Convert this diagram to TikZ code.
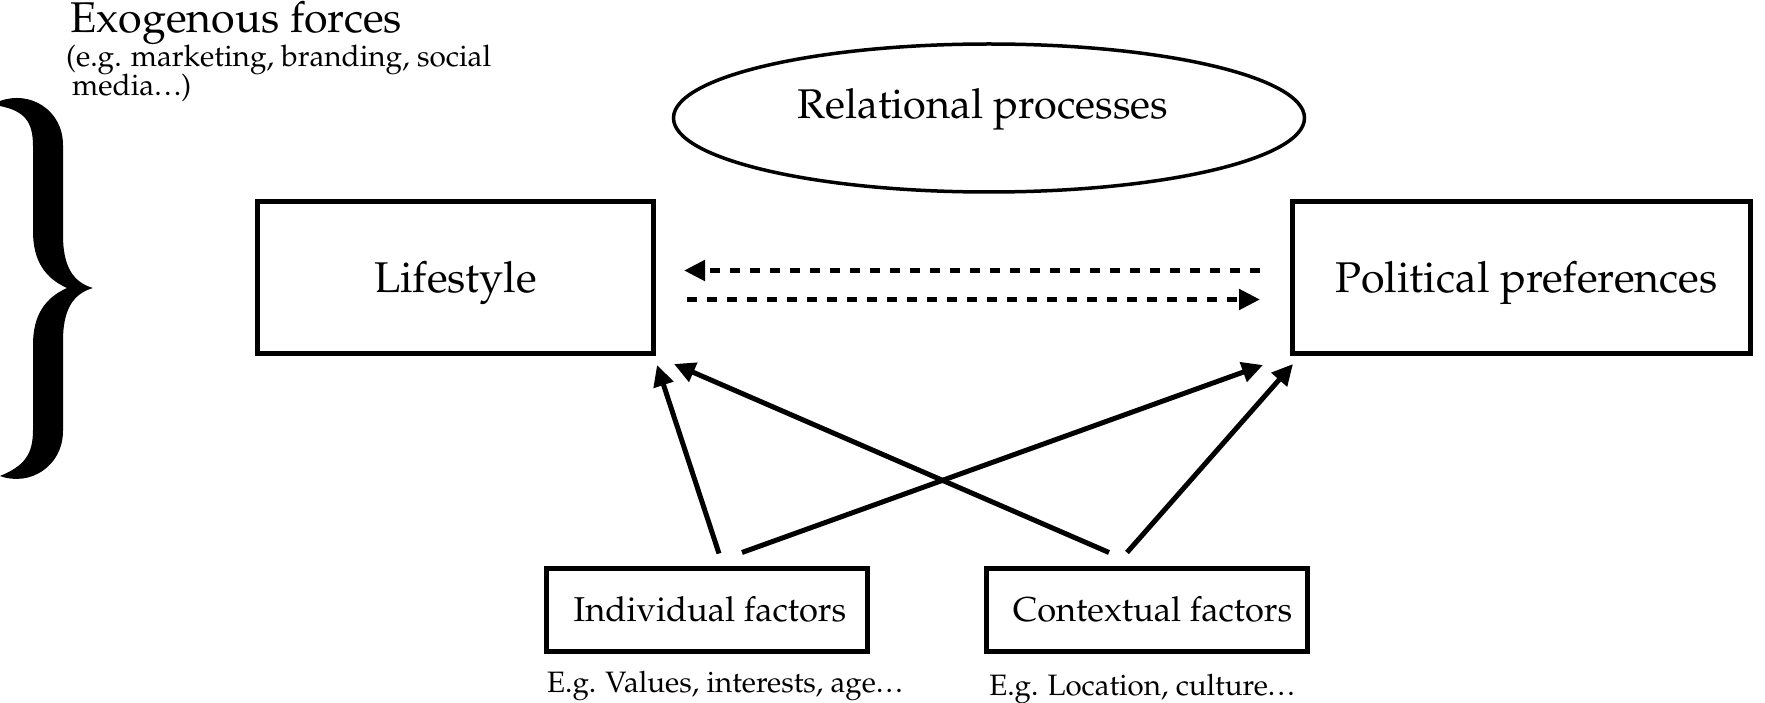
\documentclass[tikz,border=0pt]{standalone}
\usepackage[T1]{fontenc}
\usepackage{mathpazo}
\usetikzlibrary{arrows.meta,shapes.geometric,calc}
\newcommand\myell{.\kern0.08em.\kern0.08em.}
\tikzset{
  boxnode/.style={draw, line width=5pt, inner sep=0pt, text depth=0pt},
  bigtxt/.style={font=\fontsize{43}{48}\selectfont},
  midtxt/.style={font=\fontsize{34.5}{40}\selectfont},
  smalltxt/.style={font=\fontsize{29.5}{32}\selectfont, inner sep=0pt},
  arr/.style={line width=5pt, -{Triangle[length=21pt,width=20pt]}},
  dsh/.style={arr, dash pattern=on 10pt off 10pt},
}
\begin{document}
\begin{tikzpicture}[x=1pt,y=-1pt]
\useasboundingbox (0,0) rectangle (1765,703);

% brace
\fill[black] (0,101) .. controls (30,90) and (63,110) .. (63,145)
  -- (63,235) .. controls (63,265) and (72,282) .. (93,288)
  .. controls (72,294) and (63,311) .. (63,341)
  -- (63,431) .. controls (63,466) and (30,487) .. (0,476)
  .. controls (24,466) and (33,455) .. (33,430)
  -- (33,345) .. controls (33,315) and (45,298) .. (67,288)
  .. controls (45,278) and (33,261) .. (33,231)
  -- (33,146) .. controls (33,121) and (24,111) .. (0,106) -- cycle;

\node[bigtxt, inner sep=0pt, anchor=base west] (exo) at (70,33) {Exogenous forces};
\node[font=\fontsize{29.7}{32}\selectfont, inner sep=0pt, anchor=base west] (exo2) at (66,67) {(e.g. marketing, branding, social};
\node[font=\fontsize{29.7}{32}\selectfont, inner sep=0pt, anchor=base west] (exo3) at (72,96) {media\myell)};

% ellipse
\node[draw, ellipse, line width=3.5pt, minimum width=631pt, minimum height=148pt, inner sep=0pt] (rel) at (989,118) {};
\node[font=\fontsize{41.5}{46}\selectfont, inner sep=0pt, anchor=base] (relt) at (983,119) {Relational processes};

% main boxes
\node[boxnode, bigtxt, text height=30pt, minimum width=396pt, minimum height=152pt] (life) at (455.5,277.5) {Lifestyle};
\node[boxnode, bigtxt, text height=30pt, minimum width=458pt, minimum height=152pt] (pol) at (1521.5,277.5) {\hspace*{10pt}Political preferences};

\node[boxnode, midtxt, text height=24pt, minimum width=321pt, minimum height=83pt] (ind) at (707,609.5) {\hspace*{6pt}Individual factors};
\node[boxnode, midtxt, text height=24pt, minimum width=321pt, minimum height=83pt] (ctx) at (1146.5,609.5) {\hspace*{12pt}Contextual factors};

\node[smalltxt, anchor=base] (indsub) at (725,692) {E.g. Values, interests, age\myell};
\node[smalltxt, anchor=base] (ctxsub) at (1142,695) {E.g. Location, culture\myell};

% dashed arrows
\draw[dsh] ($(pol.west)+(-30,-7)$) -- ($(life.east)+(28,-7)$);
\draw[dsh] ($(life.east)+(31,22)$) -- ($(pol.west)+(-30,22)$);

% solid arrows
\draw[arr] ($(ind.north)+(12,-12)$) -- ($(life.south east)+(1,9)$);
\draw[arr] ($(ind.north)+(35,-13)$) -- ($(pol.south west)+(-27,9)$);
\draw[arr] ($(ctx.north)+(-37.5,-13)$) -- ($(life.south east)+(18,8)$);
\draw[arr] ($(ctx.north)+(-19.5,-13)$) -- ($(pol.south west)+(3,8)$);
\end{tikzpicture}
\end{document}
